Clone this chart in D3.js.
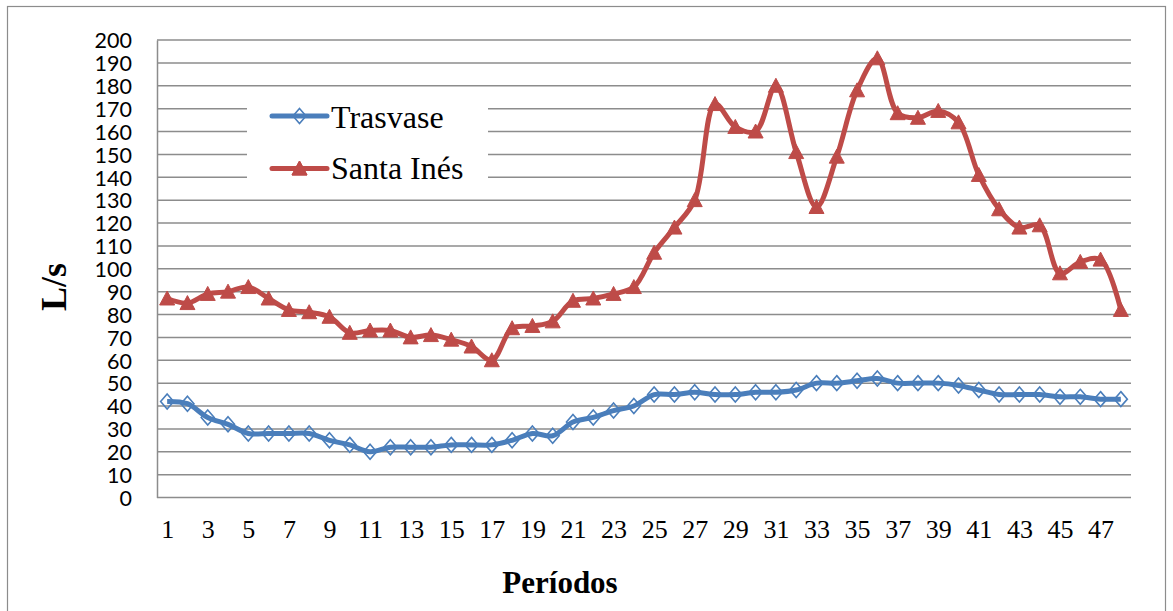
<!DOCTYPE html>
<html>
<head>
<meta charset="utf-8">
<script src="https://cdn.jsdelivr.net/npm/d3@7"></script>
<style>
  html, body { margin: 0; padding: 0; background: #fff; }
  svg { display: block; }
</style>
</head>
<body>
<svg id="chart" width="1173" height="611"></svg>
<script>
const categories = d3.range(1, 49);
const seriesNames = ["Trasvase", "Santa Inés"];
const trasvase = [42, 41, 35, 32, 28, 28, 28, 28, 25, 23, 20, 22, 22, 22, 23, 23, 23, 25, 28, 27,
                  33, 35, 38, 40, 45, 45, 46, 45, 45, 46, 46, 47, 50, 50, 51, 52, 50, 50, 50, 49,
                  47, 45, 45, 45, 44, 44, 43, 43];
const santaInes = [87, 85, 89, 90, 92, 87, 82, 81, 79, 72, 73, 73, 70, 71, 69, 66, 60, 74, 75, 77,
                   86, 87, 89, 92, 107, 118, 130, 172, 162, 160, 180, 151, 127, 149, 178, 192, 168, 166, 169, 164,
                   141, 126, 118, 119, 98, 103, 104, 82];
const yTicks = d3.range(0, 201, 10);
const xTickLabels = categories.filter(c => c % 2 === 1);
const yTitle = "L/s";
const xTitle = "Períodos";

const svg = d3.select("#chart");
const plot = { left: 157, right: 1131, top: 40, bottom: 497.5 };
const blue = "#4A7EBB", red = "#BE4B48", grid = "#8c8c8c";

// outer chart border
svg.append("rect").attr("x", 7.5).attr("y", 6.5).attr("width", 1158).attr("height", 640)
  .attr("fill", "#fff").attr("stroke", "#8c8c8c").attr("stroke-width", 1.2);

const x = d3.scalePoint().domain(categories).range([plot.left, plot.right]).padding(0.5);
const y = d3.scaleLinear().domain([0, 200]).range([plot.bottom, plot.top]);

// gridlines
svg.append("g").selectAll("line").data(yTicks).join("line")
  .attr("x1", plot.left).attr("x2", plot.right)
  .attr("y1", d => y(d)).attr("y2", d => y(d))
  .attr("stroke", grid).attr("stroke-width", 1.5);

// y axis
const yAxis = svg.append("g").attr("transform", `translate(${plot.left},0)`)
  .call(d3.axisLeft(y).tickValues(yTicks).tickSize(0).tickPadding(25));
yAxis.select(".domain").attr("stroke", grid).attr("stroke-width", 1.5);
yAxis.selectAll("text").attr("font-family", "Lato, 'Liberation Sans', sans-serif")
  .attr("font-size", 21.5).attr("fill", "#000").attr("dy", "0.36em");

// x axis labels
const xAxis = svg.append("g").attr("transform", `translate(0,${plot.bottom})`)
  .call(d3.axisBottom(x).tickValues(xTickLabels).tickSize(0).tickPadding(22));
xAxis.select(".domain").remove();
xAxis.selectAll("text").attr("font-family", "'Liberation Serif', 'Times New Roman', serif")
  .attr("font-size", 26).attr("fill", "#000").attr("dy", "0.71em");

// titles
svg.append("text").attr("transform", "translate(66,287) rotate(-90)")
  .attr("text-anchor", "middle").attr("font-family", "'Liberation Serif', serif")
  .attr("font-weight", "bold").attr("font-size", 36).text(yTitle);
svg.append("text").attr("x", 560).attr("y", 593)
  .attr("text-anchor", "middle").attr("font-family", "'Liberation Serif', serif")
  .attr("font-weight", "bold").attr("font-size", 31).text(xTitle);

const diamond = "M0,-7.5L6.5,0L0,7.5L-6.5,0Z";
const triangle = "M0,-7.5L7.5,6.5L-7.5,6.5Z";

const line = d3.line().x((d, i) => x(categories[i])).y(d => y(d)).curve(d3.curveCatmullRom.alpha(0.5));

// Trasvase
svg.append("g").selectAll("path").data(trasvase).join("path")
  .attr("d", diamond).attr("transform", (d, i) => `translate(${x(categories[i])},${y(d)})`)
  .attr("fill", "none").attr("stroke", blue).attr("stroke-width", 1.6);
svg.append("path").datum(trasvase).attr("d", line)
  .attr("fill", "none").attr("stroke", blue).attr("stroke-width", 5).attr("stroke-linejoin", "round");

// Santa Inés
svg.append("path").datum(santaInes).attr("d", line)
  .attr("fill", "none").attr("stroke", red).attr("stroke-width", 5).attr("stroke-linejoin", "round");
svg.append("g").selectAll("path").data(santaInes).join("path")
  .attr("d", triangle).attr("transform", (d, i) => `translate(${x(categories[i])},${y(d)})`)
  .attr("fill", red).attr("stroke", red).attr("stroke-width", 1);

// legend
const lg = svg.append("g");
lg.append("rect").attr("x", 247).attr("y", 95).attr("width", 241).attr("height", 95).attr("fill", "#fff");
const items = [
  { name: seriesNames[0], color: blue, sym: diamond, fill: "none", y: 116, base: 127.7 },
  { name: seriesNames[1], color: red, sym: triangle, fill: red, y: 168.5, base: 178.5 }
];
items.forEach(it => {
  lg.append("path").attr("d", it.sym).attr("transform", `translate(299.5,${it.y})`)
    .attr("fill", it.fill).attr("stroke", it.color).attr("stroke-width", it.fill === "none" ? 1.6 : 1);
  lg.append("line").attr("x1", 272).attr("x2", 327).attr("y1", it.y).attr("y2", it.y)
    .attr("stroke", it.color).attr("stroke-width", 5).attr("stroke-linecap", "round");
  if (it.fill !== "none") {
    lg.append("path").attr("d", it.sym).attr("transform", `translate(299.5,${it.y})`)
      .attr("fill", it.fill).attr("stroke", it.color).attr("stroke-width", 1);
  }
  lg.append("text").attr("x", 331).attr("y", it.base)
    .attr("font-family", "'Liberation Serif', serif").attr("font-size", 32).text(it.name);
});
</script>
</body>
</html>
